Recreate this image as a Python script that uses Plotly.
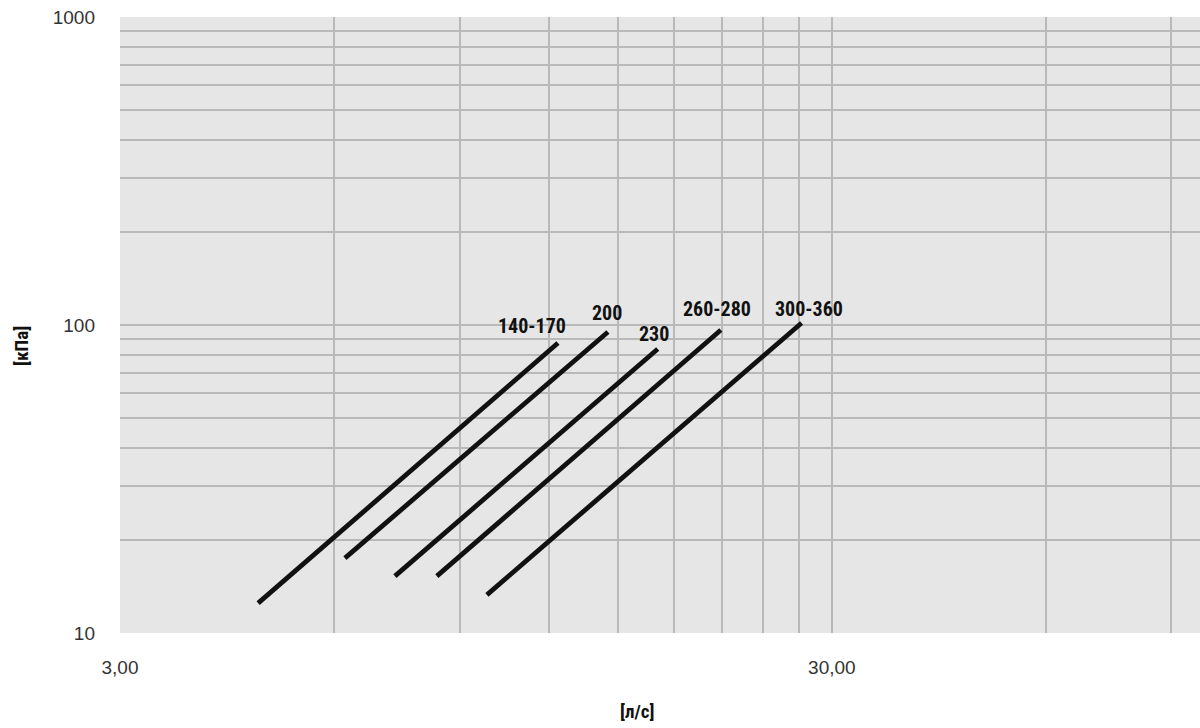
import math
import plotly.graph_objects as go

# Pressure drop vs. flow for each size range (log-log)
series_names = ["140-170", "200", "230", "260-280", "300-360"]
flow_start = [4.69, 6.21, 7.30, 8.36, 9.83]      # л/с
flow_end = [12.37, 14.54, 17.08, 20.95, 27.2]     # л/с
dp_start = [12.5, 17.5, 15.3, 15.3, 13.3]         # кПа
dp_end = [87.4, 94.9, 83.6, 96.3, 101.5]          # кПа

x_grid = [3, 6, 9, 12, 15, 18, 21, 24, 27, 30, 60, 90]
x_tick_text = ["3,00", "", "", "", "", "", "", "", "", "30,00", "", ""]
y_grid = [10, 20, 30, 40, 50, 60, 70, 80, 90,
          100, 200, 300, 400, 500, 600, 700, 800, 900, 1000]
y_tick_text = ["10"] + [""] * 8 + ["100"] + [""] * 8 + ["1000"]

# pixel offsets of each curve label from the top end of its line
label_dx = [-26, -1, -4, -4, 7]
label_dy = [17, 19, 15, 21, 14]

LABEL_FONT = "Liberation Sans Narrow, Roboto Condensed, Arial Narrow, Liberation Sans, sans-serif"
TICK_FONT = "Liberation Sans, Arial, Helvetica, sans-serif"

W, H = 1200, 728
ML, MR, MT, MB = 120, 0, 17, 95
pw, ph = W - ML - MR, H - MT - MB

fig = go.Figure()
for name, x0, x1, y0, y1 in zip(series_names, flow_start, flow_end, dp_start, dp_end):
    fig.add_trace(go.Scatter(
        x=[x0, x1], y=[y0, y1], mode="lines", name=name,
        line=dict(color="#111111", width=4.8),
        showlegend=False, hoverinfo="skip",
    ))

annotations = []
for name, x1, y1, dx, dy in zip(series_names, flow_end, dp_end, label_dx, label_dy):
    annotations.append(dict(
        x=math.log10(x1), y=math.log10(y1), xref="x", yref="y",
        text=f"<b>{name}</b>", showarrow=False,
        xshift=dx, yshift=dy,
        font=dict(family=LABEL_FONT, size=20, color="#111111"),
    ))

# axis titles, centred on given pixel positions
annotations.append(dict(
    x=(21 - ML) / pw, y=(H - MB - 346) / ph, xref="paper", yref="paper",
    xanchor="center", yanchor="middle",
    text="<b>[кПа]</b>", showarrow=False, textangle=-90,
    font=dict(family=LABEL_FONT, size=19, color="#111111"),
))
annotations.append(dict(
    x=(637 - ML) / pw, y=-(711 - (H - MB)) / ph, xref="paper", yref="paper",
    xanchor="center", yanchor="middle",
    text="<b>[л/с]</b>", showarrow=False,
    font=dict(family=LABEL_FONT, size=19, color="#111111"),
))

fig.update_layout(
    width=W, height=H,
    margin=dict(l=ML, r=MR, t=MT, b=MB),
    paper_bgcolor="white", plot_bgcolor="#e6e6e6",
    annotations=annotations,
    xaxis=dict(
        type="log", range=[math.log10(3), math.log10(98.7)],
        tickmode="array", tickvals=x_grid, ticktext=x_tick_text,
        showgrid=True, gridcolor="#b9b9b9", gridwidth=1.5,
        zeroline=False, showline=False, ticks="", ticklabelstandoff=21,
        tickfont=dict(family=TICK_FONT, size=19, color="#333333"),
    ),
    yaxis=dict(
        type="log", range=[1, 3],
        tickmode="array", tickvals=y_grid, ticktext=y_tick_text,
        showgrid=True, gridcolor="#b9b9b9", gridwidth=1.5,
        zeroline=False, showline=False, ticks="", ticklabelstandoff=24,
        tickfont=dict(family=TICK_FONT, size=19, color="#333333"),
    ),
)

fig.write_html("out.html")
